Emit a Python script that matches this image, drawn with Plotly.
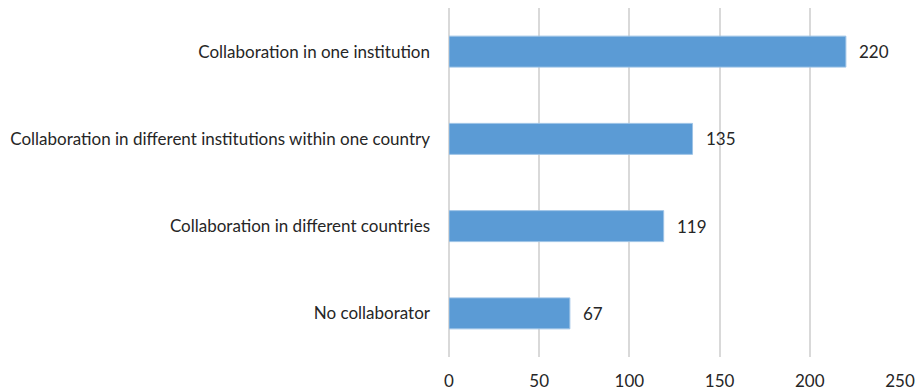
import plotly.graph_objects as go

categories = [
    "No collaborator",
    "Collaboration in different countries",
    "Collaboration in different institutions within one country",
    "Collaboration in one institution",
]
counts = [67, 119, 135, 220]

font_family = "Lato, 'Open Sans', sans-serif"
font_size = 17
text_color = "#262626"
grid_color = "#D9D9D9"

fig = go.Figure(
    go.Bar(
        x=counts,
        y=categories,
        orientation="h",
        width=0.355,
        marker=dict(color="#5B9BD5", line=dict(color="#9DC3E6", width=1)),
        hoverinfo="x+y",
    )
)

# value labels just past the end of each bar
for cat, val in zip(categories, counts):
    fig.add_annotation(
        x=val, y=cat, text=str(val), showarrow=False,
        xanchor="left", xshift=11,
        font=dict(family=font_family, size=font_size, color=text_color),
    )

fig.update_layout(
    width=921, height=391,
    margin=dict(l=449, r=21, t=8, b=34),
    paper_bgcolor="white", plot_bgcolor="white",
    showlegend=False,
    font=dict(family=font_family, size=font_size, color=text_color),
    bargap=0.6,
)
fig.update_xaxes(
    range=[0, 250], dtick=50, tick0=0,
    showgrid=True, gridcolor=grid_color, gridwidth=1.5,
    zeroline=True, zerolinecolor=grid_color, zerolinewidth=1.5,
    showline=False, ticks="", ticklabelstandoff=12,
    tickfont=dict(family=font_family, size=font_size, color=text_color),
    automargin=False,
    fixedrange=True,
)
fig.update_yaxes(
    showgrid=False, zeroline=False, showline=False, ticks="",
    ticklabelstandoff=18,
    tickfont=dict(family=font_family, size=font_size, color=text_color),
    automargin=False,
    fixedrange=True,
)

fig.write_html("out.html")
